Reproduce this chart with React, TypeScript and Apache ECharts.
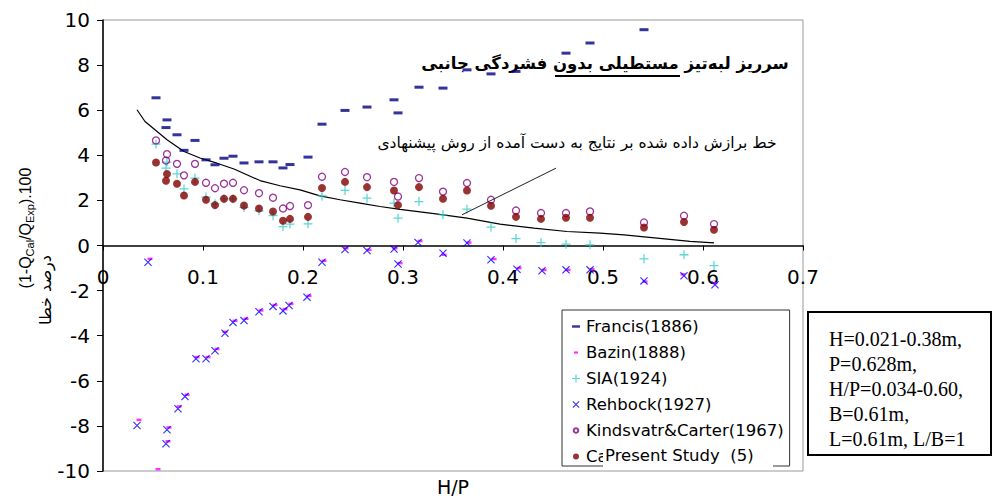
import React, { useEffect, useRef } from 'react';
import * as echarts from 'echarts';

// H/P values shared by SIA, Kindsvater & Carter and the present study
const hp = [0.053, 0.063, 0.064, 0.074, 0.081, 0.092, 0.103, 0.112, 0.121, 0.130, 0.141, 0.156, 0.170, 0.180, 0.187, 0.205, 0.219, 0.242, 0.264, 0.291, 0.295, 0.316, 0.340, 0.364, 0.388, 0.413, 0.438, 0.463, 0.487, 0.541, 0.581, 0.611];
const siaErr = [4.50, 3.43, 3.70, 3.18, 2.51, 2.99, 2.15, 1.85, 2.07, 2.07, 1.69, 1.54, 1.32, 0.84, 0.95, 0.96, 2.20, 2.44, 2.10, 1.88, 1.21, 1.95, 1.36, 1.61, 0.82, 0.31, 0.13, 0.06, 0.03, -0.59, -0.41, -0.89];
const kindsErr = [4.66, 3.77, 4.05, 3.62, 3.11, 3.62, 2.78, 2.54, 2.74, 2.78, 2.45, 2.32, 2.12, 1.64, 1.75, 1.79, 3.05, 3.26, 3.03, 2.82, 2.17, 2.99, 2.39, 2.77, 2.03, 1.55, 1.44, 1.44, 1.51, 1.02, 1.32, 0.95];
const presentErr = [3.68, 2.87, 3.17, 2.74, 2.22, 2.82, 2.03, 1.79, 2.07, 2.07, 1.77, 1.64, 1.51, 1.10, 1.18, 1.27, 2.55, 2.82, 2.59, 2.44, 1.79, 2.59, 2.07, 2.44, 1.76, 1.27, 1.18, 1.23, 1.23, 0.80, 1.04, 0.70];

const francisHP = [0.053, 0.063, 0.064, 0.074, 0.081, 0.092, 0.103, 0.112, 0.121, 0.130, 0.141, 0.156, 0.170, 0.180, 0.187, 0.205, 0.219, 0.242, 0.264, 0.291, 0.295, 0.316, 0.340, 0.364, 0.388, 0.413, 0.463, 0.487, 0.541];
const francisErr = [6.55, 5.23, 5.57, 4.91, 4.22, 4.66, 3.80, 3.58, 3.87, 3.96, 3.66, 3.71, 3.71, 3.44, 3.59, 3.92, 5.38, 5.99, 6.14, 6.46, 5.88, 7.02, 6.98, 7.79, 7.61, 7.72, 8.53, 8.98, 9.57];

const rehbockHP = [0.034, 0.045, 0.063, 0.064, 0.075, 0.082, 0.093, 0.103, 0.112, 0.122, 0.130, 0.141, 0.156, 0.170, 0.180, 0.186, 0.204, 0.219, 0.242, 0.264, 0.291, 0.295, 0.315, 0.340, 0.364, 0.388, 0.414, 0.439, 0.463, 0.487, 0.541, 0.581, 0.612];
const rehbockErr = [-7.98, -0.74, -8.79, -8.17, -7.24, -6.70, -5.02, -5.02, -4.67, -3.89, -3.41, -3.33, -2.94, -2.70, -2.90, -2.66, -2.29, -0.74, -0.18, -0.22, -0.16, -0.82, 0.13, -0.34, 0.11, -0.63, -1.05, -1.12, -1.08, -1.08, -1.57, -1.34, -1.74];

const bazinHP = [0.036, 0.047, 0.055, 0.065, 0.066, 0.076, 0.084, 0.094, 0.105, 0.114, 0.122, 0.132, 0.143, 0.158, 0.172, 0.182, 0.188, 0.206, 0.221, 0.243, 0.266, 0.292, 0.297, 0.317, 0.341, 0.366, 0.391, 0.416, 0.441, 0.465, 0.489, 0.542, 0.580, 0.612];
const bazinErr = [-7.73, -0.59, -9.92, -8.68, -8.07, -7.14, -6.62, -4.95, -4.95, -4.59, -3.83, -3.34, -3.25, -2.88, -2.64, -2.82, -2.59, -2.23, -0.68, -0.12, -0.19, -0.12, -0.78, 0.20, -0.41, 0.13, -0.60, -1.00, -1.08, -1.08, -1.05, -1.60, -1.28, -1.67];

// fitted curve of the proposed method
const fitHP = [0.034, 0.042, 0.052, 0.064, 0.081, 0.097, 0.114, 0.131, 0.157, 0.177, 0.197, 0.217, 0.237, 0.257, 0.277, 0.297, 0.331, 0.364, 0.397, 0.431, 0.464, 0.497, 0.521, 0.554, 0.587, 0.611];
const fitErr = [6.02, 5.50, 5.13, 4.69, 4.17, 3.88, 3.65, 3.39, 2.88, 2.65, 2.47, 2.20, 2.03, 1.88, 1.73, 1.60, 1.41, 1.21, 0.95, 0.77, 0.62, 0.55, 0.47, 0.33, 0.18, 0.12];

// annotation arrow (data coordinates)
const arrowFrom = [0.453, 3.43];
const arrowTo = [0.359, 1.36];

const seriesNames = ['Francis(1886)', 'Bazin(1888)', 'SIA(1924)', 'Rehbock(1927)', 'Kindsvatr&Carter(1967)', 'Ca'];
const titleText = 'سرریز لبه‌تیز مستطیلی بدون فشردگی جانبی';
const noteText = 'خط برازش داده شده بر نتایج به دست آمده از روش پیشنهادی';
const yNameFa = 'درصد خطا';
const paramLines = ['H=0.021-0.38m,', 'P=0.628m,', 'H/P=0.034-0.60,', 'B=0.61m,', 'L=0.61m, L/B=1'];
const presentLabel = 'Present Study  (5)';

const zip = (xs: number[], ys: number[]) => xs.map((x, i) => [x, ys[i]]);

const PAD = 'M0,0M10,10';
const legendIcons = [
  `path://${PAD}M1,3.8h8v2.4h-8z`,
  `path://${PAD}M3,3.9h4v2.2h-4z`,
  `path://${PAD}M4.4,1h1.2v8h-1.2z M1,4.4h8v1.2h-8z`,
  `path://${PAD}M1.5,2.3L2.3,1.5L8.5,7.7L7.7,8.5Z M7.7,1.5L8.5,2.3L2.3,8.5L1.5,7.7Z`,
  `path://${PAD}M7.3,5A2.3,2.3,0,1,1,2.7,5A2.3,2.3,0,1,1,7.3,5Z`,
  `path://${PAD}M8,5A3,3,0,1,1,2,5A3,3,0,1,1,8,5Z`,
];

const PLUS = 'path://M4.3,0h1.4v10h-1.4z M0,4.3h10v1.4h-10z';
const CROSS = 'path://M0,1L1,0L10,9L9,10Z M9,0L10,1L1,10L0,9Z';

const GRID_TOP = 20;
const GRID_H = 451;

export default function App() {
  const ref = useRef<HTMLDivElement>(null);
  useEffect(() => {
    if (!ref.current) return;
    const chart = echarts.init(ref.current, undefined, { renderer: 'svg' });
    const font = 'DejaVu Sans';
    chart.setOption({
      animation: false,
      backgroundColor: '#fff',
      grid: { left: 103, right: 189, top: GRID_TOP, height: GRID_H, show: true, borderColor: '#999', borderWidth: 1, containLabel: false, outerBoundsMode: 'none' },
      xAxis: {
        type: 'value', min: 0, max: 0.7, interval: 0.1, position: 'bottom',
        offset: -GRID_H / 2,
        axisLine: { onZero: false, lineStyle: { color: '#000', width: 1.5 } },
        axisTick: { show: true, length: 5, lineStyle: { color: '#000' } },
        axisLabel: { margin: 21, fontSize: 20, fontFamily: font, color: '#000' },
        splitLine: { show: false },
      },
      yAxis: {
        type: 'value', min: -10, max: 10, interval: 2,
        axisLine: { show: true, onZero: false, lineStyle: { color: '#000', width: 1.5 } },
        axisTick: { show: true, length: 6, lineStyle: { color: '#000' } },
        axisLabel: { margin: 13, fontSize: 20, fontFamily: font, color: '#000' },
        splitLine: { show: false },
      },
      legend: {
        orient: 'vertical', left: 562, top: 310,
        padding: [8, 6, 1, 8],
        itemWidth: 10, itemHeight: 10, itemGap: 9,
        borderColor: '#333', borderWidth: 1, backgroundColor: '#fff',
        textStyle: { fontSize: 16.5, fontFamily: font, color: '#000' },
        data: seriesNames.map((n, i) => ({ name: n, icon: legendIcons[i] })),
      },
      series: [
        {
          type: 'line', name: 'fit', data: zip(fitHP, fitErr), showSymbol: false, symbol: 'none',
          lineStyle: { color: '#000', width: 1.2 }, silent: true, z: 1,
          markLine: {
            silent: true, symbol: ['none', 'arrow'], symbolSize: [0, 15],
            lineStyle: { color: '#222', width: 1, type: 'solid' },
            label: { show: false },
            data: [[{ coord: arrowFrom }, { coord: arrowTo }]],
          },
        },
        { type: 'scatter', name: seriesNames[0], data: zip(francisHP, francisErr), symbol: 'rect', symbolSize: [9, 3], itemStyle: { color: '#000080' } },
        { type: 'scatter', name: seriesNames[1], data: zip(bazinHP, bazinErr), symbol: 'rect', symbolSize: [5, 2.5], itemStyle: { color: '#FF00FF' } },
        { type: 'scatter', name: seriesNames[2], data: zip(hp, siaErr), symbol: PLUS, symbolSize: 9, itemStyle: { color: '#33CCCC' } },
        { type: 'scatter', name: seriesNames[3], data: zip(rehbockHP, rehbockErr), symbol: CROSS, symbolSize: 8, itemStyle: { color: '#0000FF' } },
        { type: 'scatter', name: seriesNames[4], data: zip(hp, kindsErr), symbol: 'circle', symbolSize: 7, itemStyle: { color: 'rgba(0,0,0,0)', borderColor: '#800080', borderWidth: 1.3 } },
        { type: 'scatter', name: seriesNames[5], data: zip(hp, presentErr), symbol: 'circle', symbolSize: 8, itemStyle: { color: '#800000' } },
      ],
      graphic: [
        { type: 'text', x: 605, y: 63, z: 1, style: { text: titleText, font: `bold 16.5px "${font}"`, fill: '#000', textAlign: 'center', textVerticalAlign: 'middle' } },
        { type: 'line', z: 1, shape: { x1: 555, y1: 76, x2: 680, y2: 76 }, style: { stroke: '#000', lineWidth: 2 } },
        { type: 'text', x: 577, y: 143, z: 1, style: { text: noteText, font: `15.5px "${font}"`, fill: '#000', textAlign: 'center', textVerticalAlign: 'middle' } },
        {
          type: 'text', x: 25, y: 228, rotation: Math.PI / 2, z: 1,
          style: {
            text: '{m|(1-Q}{s|Cal}{m|/Q}{s|Exp}{m|).100}',
            textAlign: 'center', textVerticalAlign: 'middle', fill: '#000',
            rich: {
              m: { fontSize: 16, fontFamily: 'Liberation Sans', lineHeight: 20, verticalAlign: 'middle', color: '#000' },
              s: { fontSize: 11, fontFamily: 'Liberation Sans', lineHeight: 9, verticalAlign: 'bottom', color: '#000' },
            },
          },
        },
        { type: 'text', x: 45, y: 290, rotation: Math.PI / 2, z: 1, style: { text: yNameFa, font: `16px "${font}"`, fill: '#000', textAlign: 'center', textVerticalAlign: 'middle' } },
        { type: 'text', x: 453, y: 487, z: 1, style: { text: 'H/P', font: `19px "${font}"`, fill: '#000', textAlign: 'center', textVerticalAlign: 'middle' } },
        { type: 'rect', z: 100, shape: { x: 603, y: 441, width: 170, height: 26 }, style: { fill: '#fff' } },
        { type: 'text', x: 605, y: 455, z: 101, style: { text: presentLabel, font: `16.5px "${font}"`, fill: '#000', textAlign: 'left', textVerticalAlign: 'middle' } },
        { type: 'rect', z: 100, shape: { x: 808, y: 312, width: 183, height: 143 }, style: { fill: '#fff', stroke: '#000', lineWidth: 2 } },
        { type: 'text', x: 829, y: 326, z: 101, style: { text: paramLines.join('\n'), font: '20px "Liberation Serif"', lineHeight: 25, fill: '#000', textAlign: 'left', textVerticalAlign: 'top' } },
      ],
    });
    return () => chart.dispose();
  }, []);
  return <div ref={ref} style={{ position: 'absolute', left: 0, top: 0, width: 992, height: 500 }} />;
}
